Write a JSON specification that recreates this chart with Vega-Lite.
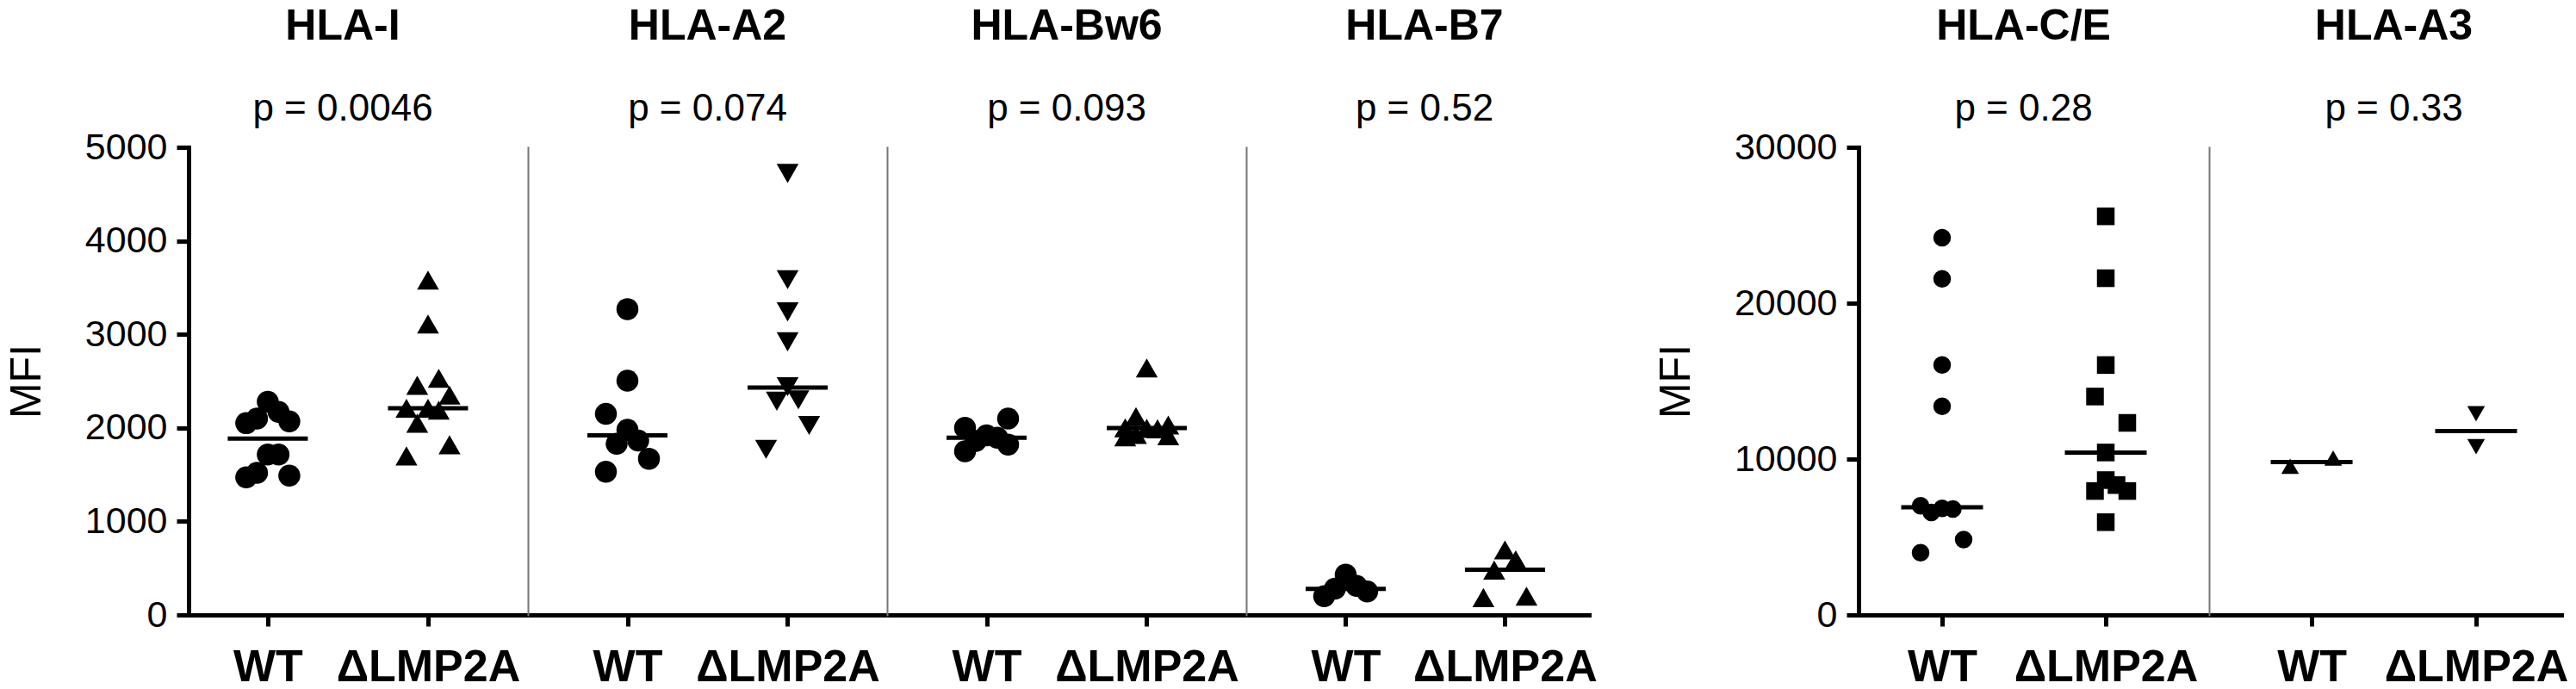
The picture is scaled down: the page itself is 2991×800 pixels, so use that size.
{
  "$schema": "https://vega.github.io/schema/vega-lite/v6.json",
  "description": "MFI of HLA molecules, WT vs dLMP2A, column scatter with median lines.",
  "background": "white",
  "padding": {"left": 6, "top": 6, "right": 5, "bottom": 0},
  "datasets": {
    "pts": [
      {"panel": "HLA-I", "group": "WT", "mfi": 2280},
      {"panel": "HLA-I", "group": "WT", "mfi": 2170},
      {"panel": "HLA-I", "group": "WT", "mfi": 2100},
      {"panel": "HLA-I", "group": "WT", "mfi": 2070},
      {"panel": "HLA-I", "group": "WT", "mfi": 2050},
      {"panel": "HLA-I", "group": "WT", "mfi": 1715},
      {"panel": "HLA-I", "group": "WT", "mfi": 1715},
      {"panel": "HLA-I", "group": "WT", "mfi": 1520},
      {"panel": "HLA-I", "group": "WT", "mfi": 1490},
      {"panel": "HLA-I", "group": "WT", "mfi": 1470},
      {"panel": "HLA-I", "group": "ΔLMP2A", "mfi": 3580},
      {"panel": "HLA-I", "group": "ΔLMP2A", "mfi": 3110},
      {"panel": "HLA-I", "group": "ΔLMP2A", "mfi": 2530},
      {"panel": "HLA-I", "group": "ΔLMP2A", "mfi": 2455},
      {"panel": "HLA-I", "group": "ΔLMP2A", "mfi": 2350},
      {"panel": "HLA-I", "group": "ΔLMP2A", "mfi": 2210},
      {"panel": "HLA-I", "group": "ΔLMP2A", "mfi": 2210},
      {"panel": "HLA-I", "group": "ΔLMP2A", "mfi": 2190},
      {"panel": "HLA-I", "group": "ΔLMP2A", "mfi": 2050},
      {"panel": "HLA-I", "group": "ΔLMP2A", "mfi": 1820},
      {"panel": "HLA-I", "group": "ΔLMP2A", "mfi": 1700},
      {"panel": "HLA-A2", "group": "WT", "mfi": 3270},
      {"panel": "HLA-A2", "group": "WT", "mfi": 2505},
      {"panel": "HLA-A2", "group": "WT", "mfi": 2150},
      {"panel": "HLA-A2", "group": "WT", "mfi": 1980},
      {"panel": "HLA-A2", "group": "WT", "mfi": 1865},
      {"panel": "HLA-A2", "group": "WT", "mfi": 1830},
      {"panel": "HLA-A2", "group": "WT", "mfi": 1670},
      {"panel": "HLA-A2", "group": "WT", "mfi": 1530},
      {"panel": "HLA-A2", "group": "ΔLMP2A", "mfi": 4720},
      {"panel": "HLA-A2", "group": "ΔLMP2A", "mfi": 3585},
      {"panel": "HLA-A2", "group": "ΔLMP2A", "mfi": 3240},
      {"panel": "HLA-A2", "group": "ΔLMP2A", "mfi": 2920},
      {"panel": "HLA-A2", "group": "ΔLMP2A", "mfi": 2440},
      {"panel": "HLA-A2", "group": "ΔLMP2A", "mfi": 2300},
      {"panel": "HLA-A2", "group": "ΔLMP2A", "mfi": 2285},
      {"panel": "HLA-A2", "group": "ΔLMP2A", "mfi": 2025},
      {"panel": "HLA-A2", "group": "ΔLMP2A", "mfi": 1770},
      {"panel": "HLA-Bw6", "group": "WT", "mfi": 2100},
      {"panel": "HLA-Bw6", "group": "WT", "mfi": 2000},
      {"panel": "HLA-Bw6", "group": "WT", "mfi": 1920},
      {"panel": "HLA-Bw6", "group": "WT", "mfi": 1895},
      {"panel": "HLA-Bw6", "group": "WT", "mfi": 1860},
      {"panel": "HLA-Bw6", "group": "WT", "mfi": 1820},
      {"panel": "HLA-Bw6", "group": "WT", "mfi": 1750},
      {"panel": "HLA-Bw6", "group": "ΔLMP2A", "mfi": 2640},
      {"panel": "HLA-Bw6", "group": "ΔLMP2A", "mfi": 2120},
      {"panel": "HLA-Bw6", "group": "ΔLMP2A", "mfi": 2030},
      {"panel": "HLA-Bw6", "group": "ΔLMP2A", "mfi": 2000},
      {"panel": "HLA-Bw6", "group": "ΔLMP2A", "mfi": 1995},
      {"panel": "HLA-Bw6", "group": "ΔLMP2A", "mfi": 1990},
      {"panel": "HLA-Bw6", "group": "ΔLMP2A", "mfi": 1930},
      {"panel": "HLA-Bw6", "group": "ΔLMP2A", "mfi": 1915},
      {"panel": "HLA-Bw6", "group": "ΔLMP2A", "mfi": 1905},
      {"panel": "HLA-B7", "group": "WT", "mfi": 430},
      {"panel": "HLA-B7", "group": "WT", "mfi": 310},
      {"panel": "HLA-B7", "group": "WT", "mfi": 280},
      {"panel": "HLA-B7", "group": "WT", "mfi": 250},
      {"panel": "HLA-B7", "group": "WT", "mfi": 200},
      {"panel": "HLA-B7", "group": "ΔLMP2A", "mfi": 695},
      {"panel": "HLA-B7", "group": "ΔLMP2A", "mfi": 590},
      {"panel": "HLA-B7", "group": "ΔLMP2A", "mfi": 480},
      {"panel": "HLA-B7", "group": "ΔLMP2A", "mfi": 200},
      {"panel": "HLA-B7", "group": "ΔLMP2A", "mfi": 185},
      {"panel": "HLA-C/E", "group": "WT", "mfi": 24200},
      {"panel": "HLA-C/E", "group": "WT", "mfi": 21560},
      {"panel": "HLA-C/E", "group": "WT", "mfi": 16030},
      {"panel": "HLA-C/E", "group": "WT", "mfi": 13380},
      {"panel": "HLA-C/E", "group": "WT", "mfi": 7000},
      {"panel": "HLA-C/E", "group": "WT", "mfi": 6840},
      {"panel": "HLA-C/E", "group": "WT", "mfi": 6790},
      {"panel": "HLA-C/E", "group": "WT", "mfi": 6580},
      {"panel": "HLA-C/E", "group": "WT", "mfi": 4830},
      {"panel": "HLA-C/E", "group": "WT", "mfi": 3990},
      {"panel": "HLA-C/E", "group": "ΔLMP2A", "mfi": 25570},
      {"panel": "HLA-C/E", "group": "ΔLMP2A", "mfi": 21600},
      {"panel": "HLA-C/E", "group": "ΔLMP2A", "mfi": 16030},
      {"panel": "HLA-C/E", "group": "ΔLMP2A", "mfi": 14010},
      {"panel": "HLA-C/E", "group": "ΔLMP2A", "mfi": 12320},
      {"panel": "HLA-C/E", "group": "ΔLMP2A", "mfi": 10420},
      {"panel": "HLA-C/E", "group": "ΔLMP2A", "mfi": 8650},
      {"panel": "HLA-C/E", "group": "ΔLMP2A", "mfi": 8330},
      {"panel": "HLA-C/E", "group": "ΔLMP2A", "mfi": 7950},
      {"panel": "HLA-C/E", "group": "ΔLMP2A", "mfi": 7950},
      {"panel": "HLA-C/E", "group": "ΔLMP2A", "mfi": 5950},
      {"panel": "HLA-A3", "group": "WT", "mfi": 10060},
      {"panel": "HLA-A3", "group": "WT", "mfi": 9540},
      {"panel": "HLA-A3", "group": "ΔLMP2A", "mfi": 12910},
      {"panel": "HLA-A3", "group": "ΔLMP2A", "mfi": 10800}
    ],
    "med": [
      {"panel": "HLA-I", "group": "WT", "mfi": 1885},
      {"panel": "HLA-I", "group": "ΔLMP2A", "mfi": 2209},
      {"panel": "HLA-A2", "group": "WT", "mfi": 1920},
      {"panel": "HLA-A2", "group": "ΔLMP2A", "mfi": 2430},
      {"panel": "HLA-Bw6", "group": "WT", "mfi": 1895},
      {"panel": "HLA-Bw6", "group": "ΔLMP2A", "mfi": 1998},
      {"panel": "HLA-B7", "group": "WT", "mfi": 278},
      {"panel": "HLA-B7", "group": "ΔLMP2A", "mfi": 483},
      {"panel": "HLA-C/E", "group": "WT", "mfi": 6900},
      {"panel": "HLA-C/E", "group": "ΔLMP2A", "mfi": 10420},
      {"panel": "HLA-A3", "group": "WT", "mfi": 9810},
      {"panel": "HLA-A3", "group": "ΔLMP2A", "mfi": 11800}
    ]
  },
  "data": {"name": "pts"},
  "transform": [
    {
      "window": [
        {"op": "row_number", "as": "r"},
        {"op": "lag", "field": "mfi", "as": "prev"},
        {"op": "lead", "field": "mfi", "as": "next"}
      ],
      "sort": [{"field": "mfi", "order": "ascending"}],
      "groupby": ["panel", "group"]
    },
    {"calculate": "indexof(['HLA-C/E', 'HLA-A3'], datum.panel) >= 0 ? 1700 : 283", "as": "gap"},
    {"calculate": "(isValid(datum.prev) && datum.mfi - datum.prev < datum.gap) || (isValid(datum.next) && datum.next - datum.mfi < datum.gap)", "as": "crowd"},
    {"calculate": "datum.crowd ? [0, -2, 2, -1, 1][datum.r % 5] : 0", "as": "lane"}
  ],
  "spacing": 66,
  "resolve": {"scale": {"x": "independent", "y": "independent", "shape": "independent", "xOffset": "independent"}},
  "hconcat": [
    {
      "spacing": 0,
      "resolve": {"scale": {"x": "independent", "y": "independent", "shape": "independent", "xOffset": "independent"}},
      "hconcat": [
        {
          "width": 394,
          "height": 543,
          "title": {"text": "HLA-I", "subtitle": "p = 0.0046", "dx": -18, "dy": 21},
          "transform": [{"filter": "datum.panel == 'HLA-I'"}],
          "encoding": {
            "x": {"field": "group", "type": "nominal", "scale": {"type": "point", "domain": ["WT", "ΔLMP2A"], "padding": 0.559, "align": 0.442}},
            "y": {
              "field": "mfi",
              "type": "quantitative",
              "scale": {"domain": [0, 5000], "nice": false},
              "axis": {"values": [0, 1000, 2000, 3000, 4000, 5000], "format": "d", "title": "MFI"}
            }
          },
          "layer": [
            {
              "mark": {"type": "point", "filled": true, "size": 650, "opacity": 1},
              "encoding": {
                "xOffset": {"field": "lane", "type": "quantitative", "scale": {"domain": [-2, 2], "range": [-25, 25]}},
                "shape": {"field": "group", "type": "nominal", "scale": {"domain": ["WT", "ΔLMP2A"], "range": ["circle", "triangle-up"]}, "legend": null}
              }
            },
            {
              "data": {"name": "med"},
              "transform": [{"filter": "datum.panel == 'HLA-I'"}],
              "mark": {"type": "tick", "size": 93, "thickness": 5, "opacity": 1}
            },
            {
              "data": {"values": [{}]},
              "mark": {"type": "rule", "strokeWidth": 5, "strokeCap": "square"},
              "encoding": {"x": {"datum": "WT"}, "x2": {"datum": "ΔLMP2A"}, "y": {"datum": 5074}}
            },
            {
              "data": {"values": [{"group": "WT"}, {"group": "ΔLMP2A"}]},
              "mark": {"type": "rule", "strokeWidth": 5, "strokeCap": "square"},
              "encoding": {"y": {"datum": 5074}, "y2": {"datum": 4935}}
            }
          ]
        },
        {
          "width": 417,
          "height": 543,
          "title": {"text": "HLA-A2", "subtitle": "p = 0.074"},
          "transform": [{"filter": "datum.panel == 'HLA-A2'"}],
          "encoding": {
            "x": {"field": "group", "type": "nominal", "scale": {"type": "point", "domain": ["WT", "ΔLMP2A"], "padding": 0.621, "align": 0.5}},
            "y": {
              "field": "mfi",
              "type": "quantitative",
              "scale": {"domain": [0, 5000], "nice": false},
              "axis": {"labels": false, "ticks": false, "title": null, "domainColor": "#777777", "domainWidth": 2}
            }
          },
          "layer": [
            {
              "mark": {"type": "point", "filled": true, "size": 650, "opacity": 1},
              "encoding": {
                "xOffset": {"field": "lane", "type": "quantitative", "scale": {"domain": [-2, 2], "range": [-25, 25]}},
                "shape": {"field": "group", "type": "nominal", "scale": {"domain": ["WT", "ΔLMP2A"], "range": ["circle", "triangle-down"]}, "legend": null}
              }
            },
            {
              "data": {"name": "med"},
              "transform": [{"filter": "datum.panel == 'HLA-A2'"}],
              "mark": {"type": "tick", "size": 93, "thickness": 5, "opacity": 1}
            },
            {
              "data": {"values": [{}]},
              "mark": {"type": "rule", "strokeWidth": 5, "strokeCap": "square"},
              "encoding": {"x": {"datum": "WT"}, "x2": {"datum": "ΔLMP2A"}, "y": {"datum": 5074}}
            },
            {
              "data": {"values": [{"group": "WT"}, {"group": "ΔLMP2A"}]},
              "mark": {"type": "rule", "strokeWidth": 5, "strokeCap": "square"},
              "encoding": {"y": {"datum": 5074}, "y2": {"datum": 4935}}
            }
          ]
        },
        {
          "width": 417,
          "height": 543,
          "title": {"text": "HLA-Bw6", "subtitle": "p = 0.093"},
          "transform": [{"filter": "datum.panel == 'HLA-Bw6'"}],
          "encoding": {
            "x": {"field": "group", "type": "nominal", "scale": {"type": "point", "domain": ["WT", "ΔLMP2A"], "padding": 0.621, "align": 0.5}},
            "y": {
              "field": "mfi",
              "type": "quantitative",
              "scale": {"domain": [0, 5000], "nice": false},
              "axis": {"labels": false, "ticks": false, "title": null, "domainColor": "#777777", "domainWidth": 2}
            }
          },
          "layer": [
            {
              "mark": {"type": "point", "filled": true, "size": 650, "opacity": 1},
              "encoding": {
                "xOffset": {"field": "lane", "type": "quantitative", "scale": {"domain": [-2, 2], "range": [-25, 25]}},
                "shape": {"field": "group", "type": "nominal", "scale": {"domain": ["WT", "ΔLMP2A"], "range": ["circle", "triangle-up"]}, "legend": null}
              }
            },
            {
              "data": {"name": "med"},
              "transform": [{"filter": "datum.panel == 'HLA-Bw6'"}],
              "mark": {"type": "tick", "size": 93, "thickness": 5, "opacity": 1}
            },
            {
              "data": {"values": [{}]},
              "mark": {"type": "rule", "strokeWidth": 5, "strokeCap": "square"},
              "encoding": {"x": {"datum": "WT"}, "x2": {"datum": "ΔLMP2A"}, "y": {"datum": 5074}}
            },
            {
              "data": {"values": [{"group": "WT"}, {"group": "ΔLMP2A"}]},
              "mark": {"type": "rule", "strokeWidth": 5, "strokeCap": "square"},
              "encoding": {"y": {"datum": 5074}, "y2": {"datum": 4935}}
            }
          ]
        },
        {
          "width": 398,
          "height": 543,
          "title": {"text": "HLA-B7", "subtitle": "p = 0.52", "dx": 8},
          "transform": [{"filter": "datum.panel == 'HLA-B7'"}],
          "encoding": {
            "x": {"field": "group", "type": "nominal", "scale": {"type": "point", "domain": ["WT", "ΔLMP2A"], "padding": 0.576, "align": 0.542}},
            "y": {
              "field": "mfi",
              "type": "quantitative",
              "scale": {"domain": [0, 5000], "nice": false},
              "axis": {"labels": false, "ticks": false, "title": null, "domainColor": "#777777", "domainWidth": 2}
            }
          },
          "layer": [
            {
              "mark": {"type": "point", "filled": true, "size": 650, "opacity": 1},
              "encoding": {
                "xOffset": {"field": "lane", "type": "quantitative", "scale": {"domain": [-2, 2], "range": [-25, 25]}},
                "shape": {"field": "group", "type": "nominal", "scale": {"domain": ["WT", "ΔLMP2A"], "range": ["circle", "triangle-up"]}, "legend": null}
              }
            },
            {
              "data": {"name": "med"},
              "transform": [{"filter": "datum.panel == 'HLA-B7'"}],
              "mark": {"type": "tick", "size": 93, "thickness": 5, "opacity": 1}
            },
            {
              "data": {"values": [{}]},
              "mark": {"type": "rule", "strokeWidth": 5, "strokeCap": "square"},
              "encoding": {"x": {"datum": "WT"}, "x2": {"datum": "ΔLMP2A"}, "y": {"datum": 5074}}
            },
            {
              "data": {"values": [{"group": "WT"}, {"group": "ΔLMP2A"}]},
              "mark": {"type": "rule", "strokeWidth": 5, "strokeCap": "square"},
              "encoding": {"y": {"datum": 5074}, "y2": {"datum": 4935}}
            }
          ]
        }
      ]
    },
    {
      "spacing": 0,
      "resolve": {"scale": {"x": "independent", "y": "independent", "shape": "independent", "xOffset": "independent"}},
      "hconcat": [
        {
          "width": 407,
          "height": 543,
          "title": {"text": "HLA-C/E", "subtitle": "p = 0.28", "dx": -12, "dy": 21},
          "transform": [{"filter": "datum.panel == 'HLA-C/E'"}],
          "encoding": {
            "x": {"field": "group", "type": "nominal", "scale": {"type": "point", "domain": ["WT", "ΔLMP2A"], "padding": 0.571, "align": 0.447}},
            "y": {
              "field": "mfi",
              "type": "quantitative",
              "scale": {"domain": [0, 30000], "nice": false},
              "axis": {"values": [0, 10000, 20000, 30000], "format": "d", "title": "MFI"}
            }
          },
          "layer": [
            {
              "mark": {"type": "point", "filled": true, "size": 420, "opacity": 1},
              "encoding": {
                "xOffset": {"field": "lane", "type": "quantitative", "scale": {"domain": [-2, 2], "range": [-25, 25]}},
                "shape": {"field": "group", "type": "nominal", "scale": {"domain": ["WT", "ΔLMP2A"], "range": ["circle", "square"]}, "legend": null}
              }
            },
            {
              "data": {"name": "med"},
              "transform": [{"filter": "datum.panel == 'HLA-C/E'"}],
              "mark": {"type": "tick", "size": 95, "thickness": 5, "opacity": 1}
            },
            {
              "data": {"values": [{}]},
              "mark": {"type": "rule", "strokeWidth": 5, "strokeCap": "square"},
              "encoding": {"x": {"datum": "WT"}, "x2": {"datum": "ΔLMP2A"}, "y": {"datum": 30444}}
            },
            {
              "data": {"values": [{"group": "WT"}, {"group": "ΔLMP2A"}]},
              "mark": {"type": "rule", "strokeWidth": 5, "strokeCap": "square"},
              "encoding": {"y": {"datum": 30444}, "y2": {"datum": 29610}}
            }
          ]
        },
        {
          "width": 409,
          "height": 543,
          "title": {"text": "HLA-A3", "subtitle": "p = 0.33", "dx": 10},
          "transform": [{"filter": "datum.panel == 'HLA-A3'"}],
          "encoding": {
            "x": {"field": "group", "type": "nominal", "scale": {"type": "point", "domain": ["WT", "ΔLMP2A"], "padding": 0.571, "align": 0.546}},
            "y": {
              "field": "mfi",
              "type": "quantitative",
              "scale": {"domain": [0, 30000], "nice": false},
              "axis": {"labels": false, "ticks": false, "title": null, "domainColor": "#777777", "domainWidth": 2}
            }
          },
          "layer": [
            {
              "mark": {"type": "point", "filled": true, "size": 420, "opacity": 1},
              "encoding": {
                "xOffset": {"field": "lane", "type": "quantitative", "scale": {"domain": [-2, 2], "range": [-25, 25]}},
                "shape": {"field": "group", "type": "nominal", "scale": {"domain": ["WT", "ΔLMP2A"], "range": ["triangle-up", "triangle-down"]}, "legend": null}
              }
            },
            {
              "data": {"name": "med"},
              "transform": [{"filter": "datum.panel == 'HLA-A3'"}],
              "mark": {"type": "tick", "size": 95, "thickness": 5, "opacity": 1}
            },
            {
              "data": {"values": [{}]},
              "mark": {"type": "rule", "strokeWidth": 5, "strokeCap": "square"},
              "encoding": {"x": {"datum": "WT"}, "x2": {"datum": "ΔLMP2A"}, "y": {"datum": 30444}}
            },
            {
              "data": {"values": [{"group": "WT"}, {"group": "ΔLMP2A"}]},
              "mark": {"type": "rule", "strokeWidth": 5, "strokeCap": "square"},
              "encoding": {"y": {"datum": 30444}, "y2": {"datum": 29610}}
            }
          ]
        }
      ]
    }
  ],
  "config": {
    "font": "Liberation Sans",
    "view": {"stroke": null},
    "point": {"color": "black"},
    "tick": {"color": "black"},
    "rule": {"color": "black"},
    "title": {
      "anchor": "middle",
      "fontSize": 50,
      "fontWeight": "bold",
      "color": "black",
      "subtitleFontSize": 44,
      "subtitleFontWeight": "normal",
      "subtitleColor": "black",
      "subtitlePadding": 49,
      "offset": 22
    },
    "axis": {
      "grid": false,
      "domainColor": "black",
      "tickColor": "black",
      "labelColor": "black",
      "titleColor": "black",
      "domainCap": "square",
      "labelOverlap": false
    },
    "axisX": {
      "title": null,
      "labelAngle": 0,
      "labelFontSize": 52,
      "labelFontWeight": "bold",
      "labelPadding": 22,
      "labelLimit": 0,
      "domainWidth": 5,
      "tickWidth": 5,
      "tickSize": 13
    },
    "axisY": {
      "labelFontSize": 43,
      "titleFontSize": 50,
      "titleFontWeight": "normal",
      "domainWidth": 5,
      "tickWidth": 5,
      "tickSize": 14,
      "labelPadding": 11,
      "titlePadding": 42
    }
  }
}
